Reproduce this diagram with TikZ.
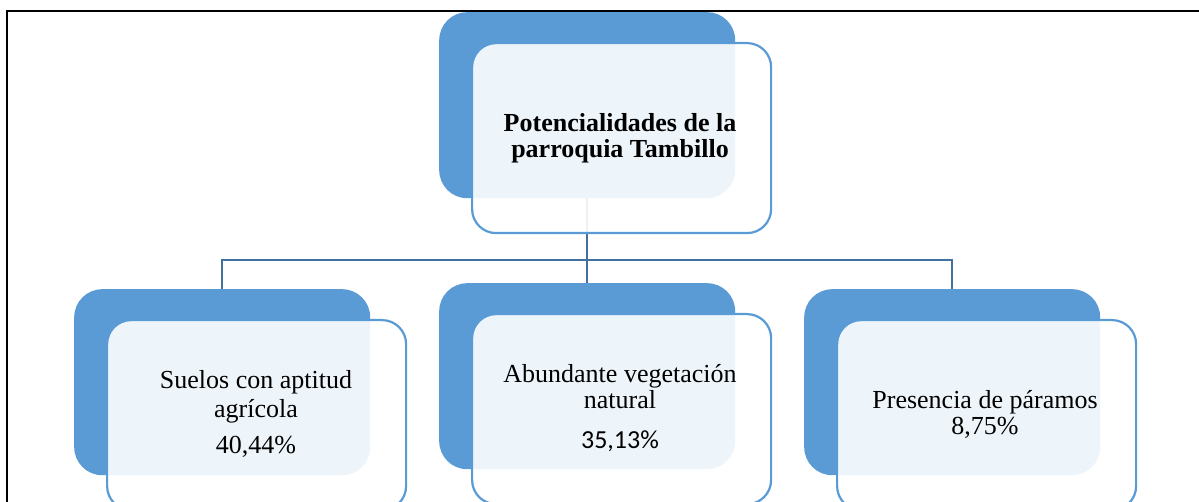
\documentclass[tikz,border=0pt]{standalone}
\usepackage{fontspec}
\setmainfont{Liberation Serif}
\newfontfamily\calib{Carlito}
\definecolor{backblue}{HTML}{5B9BD5}
\definecolor{connblue}{HTML}{41719C}
\begin{document}
\begin{tikzpicture}[x=1pt,y=-1pt,
  backbox/.style={fill=backblue, rounded corners=28pt, inner sep=0pt, anchor=north west, minimum width=296pt, minimum height=186pt},
  frontbox/.style={draw=backblue, line width=2.2pt, fill=white, fill opacity=0.9, rounded corners=24pt, inner sep=0pt, anchor=north west, minimum width=299pt, minimum height=190pt},
  conn/.style={draw=connblue, line width=2.2pt},
  lbl/.style={align=center, anchor=base, font=\fontsize{26}{26}\selectfont, text=black, inner sep=0pt},
]
\useasboundingbox (0,0) rectangle (1199,502);
\draw[line width=1.5pt] (7,502) -- (7,11) -- (1199,11);
\node[backbox] (tb) at (439,12) {};
\node[backbox] (lb) at (74,289) {};
\node[backbox] (mb) at (439,283) {};
\node[backbox] (rb) at (804,289) {};
\coordinate (bus) at (587,260);
\draw[conn] (tb.south) -- (mb.north);
\draw[conn] (lb.north) |- (bus) -| (rb.north);
\node[frontbox] (tf) at (471,42) {};
\node[frontbox] (lf) at (106,319) {};
\node[frontbox] (mf) at (471,313) {};
\node[frontbox] (rf) at (836,319) {};
\node[lbl, font=\bfseries\fontsize{26}{26}\selectfont] (tt) at (620,158) {Potencialidades de la\\parroquia Tambillo};
\node[lbl] (lt) at (256,453) {Suelos con aptitud\\[3pt]agrícola\\[10pt]40,44\%};
\node[lbl] (mt) at (620,448) {Abundante vegetación\\natural\\[14pt]{\calib 35,13\%}};
\node[lbl] (rt) at (985,434) {Presencia de páramos\\8,75\%};
\end{tikzpicture}
\end{document}
